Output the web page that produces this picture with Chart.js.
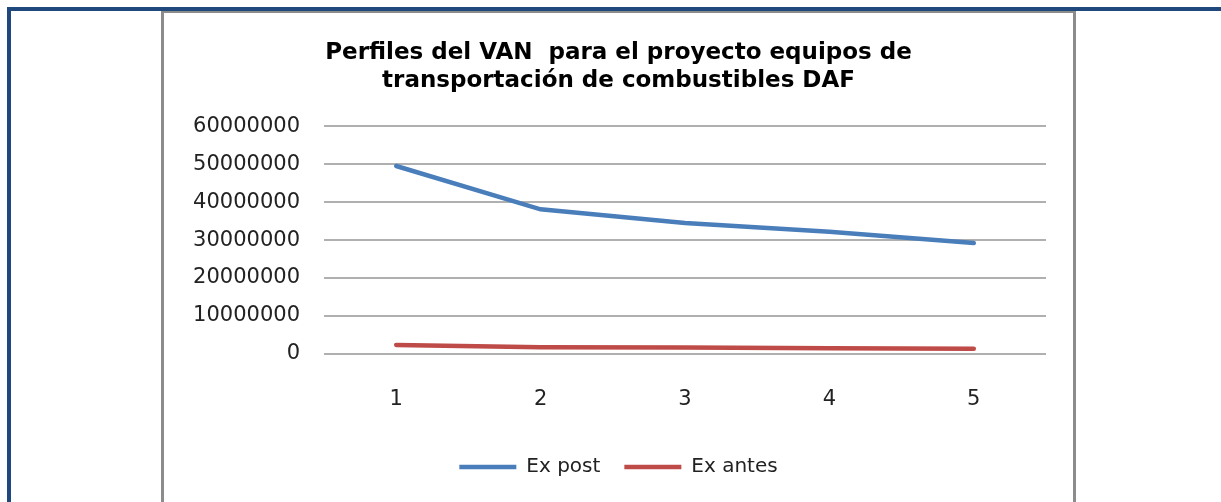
<!DOCTYPE html>
<html>
<head>
<meta charset="utf-8">
<script src="https://cdn.jsdelivr.net/npm/chart.js@4/dist/chart.umd.min.js"></script>
<style>
  html, body { margin: 0; padding: 0; background: #fff; overflow: hidden; }
  #frame { position: absolute; left: 7px; top: 7px; width: 1400px; height: 700px;
           border-left: 4px solid #1f497d; border-top: 4px solid #1f497d; }
  #box { position: absolute; left: 161px; top: 11px; width: 909px; height: 600px;
         border-left: 3px solid #8c8c8c; border-right: 3px solid #8c8c8c; border-top: 2px solid #8c8c8c; background: #fff; }
  #wrap { position: absolute; left: 164px; top: 13px; width: 909px; height: 489px; }
</style>
</head>
<body>
<div id="frame"></div>
<div id="box"></div>
<div id="wrap"><canvas id="chart" width="909" height="489"></canvas></div>
<script>
// periods on the x axis
var periods = ['1', '2', '3', '4', '5'];
// VAN values
var exPost = [49500000, 38100000, 34500000, 32200000, 29200000];
var exAntes = [2400000, 1800000, 1700000, 1500000, 1400000];
var yMax = 60000000;
var yStep = 10000000;

var ctx = document.getElementById('chart').getContext('2d');

new Chart(ctx, {
  type: 'line',
  data: {
    labels: periods,
    datasets: [
      {
        label: 'Ex post',
        data: exPost,
        borderColor: '#4a7ebb',
        backgroundColor: '#4a7ebb',
        borderWidth: 4.5,
        borderCapStyle: 'round',
        pointRadius: 0,
        tension: 0
      },
      {
        label: 'Ex antes',
        data: exAntes,
        borderColor: '#be4b48',
        backgroundColor: '#be4b48',
        borderWidth: 4.5,
        borderCapStyle: 'round',
        pointRadius: 0,
        tension: 0
      }
    ]
  },
  options: {
    responsive: false,
    animation: false,
    layout: { padding: { left: 27, right: 27, top: 0, bottom: 15 } },
    plugins: {
      title: {
        display: true,
        text: ['Perfiles del VAN  para el proyecto equipos de', 'transportación de combustibles DAF'],
        color: '#000',
        font: { family: 'DejaVu Sans', size: 23, weight: 'bold', lineHeight: 1.22 },
        padding: { top: 26, bottom: 31 }
      },
      legend: {
        position: 'bottom',
        labels: {
          usePointStyle: true,
          pointStyle: 'line',
          pointStyleWidth: 57,
          color: '#222',
          font: { family: 'DejaVu Sans', size: 20 },
          padding: 24
        }
      },
      tooltip: { enabled: false }
    },
    scales: {
      x: {
        offset: true,
        grid: { display: false, drawTicks: false },
        border: { display: false },
        ticks: { color: '#222', font: { family: 'DejaVu Sans', size: 21 }, padding: 33 },
        afterFit: function(scale) { scale.height = 79; }
      },
      y: {
        min: 0,
        max: yMax,
        grid: { color: '#b0b0b0', lineWidth: 2, drawTicks: false },
        border: { display: false },
        ticks: {
          stepSize: yStep,
          color: '#222',
          font: { family: 'DejaVu Sans', size: 21 },
          padding: 24,
          callback: function(v) { return String(v); }
        },
        afterFit: function(scale) { scale.width = 133; }
      }
    }
  }
});
</script>
</body>
</html>
